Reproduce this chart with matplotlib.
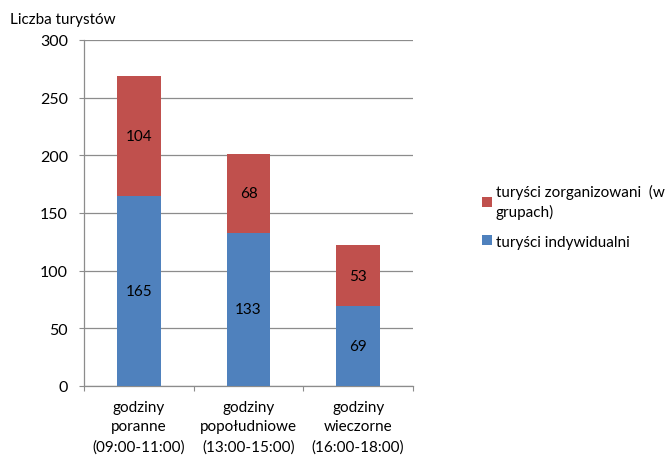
import matplotlib
matplotlib.use("Agg")
import matplotlib.pyplot as plt
import numpy as np

categories = ["godziny\nporanne\n(09:00-11:00)",
              "godziny\npopołudniowe\n(13:00-15:00)",
              "godziny\nwieczorne\n(16:00-18:00)"]
indywidualni = [165, 133, 69]
zorganizowani = [104, 68, 53]
yticks = [0, 50, 100, 150, 200, 250, 300]

plt.rcParams['font.family'] = ['Lato', 'DejaVu Sans']

fig = plt.figure(figsize=(6.71, 4.60), dpi=100)
ax = fig.add_axes([84/671, 1 - 387/460, 329/671, 346/460])

blue = '#4F81BD'
red = '#C0504D'
x = np.arange(len(categories))
b1 = ax.bar(x, indywidualni, width=0.4, color=blue, zorder=3)
b2 = ax.bar(x, zorganizowani, width=0.4, bottom=indywidualni, color=red, zorder=3)

for i in range(len(x)):
    ax.text(x[i], indywidualni[i] / 2, str(indywidualni[i]), ha='center', va='center',
            fontsize=11, zorder=4)
    ax.text(x[i], indywidualni[i] + zorganizowani[i] / 2, str(zorganizowani[i]),
            ha='center', va='center', fontsize=11, zorder=4)

ax.set_xlim(-0.5, 2.5)
ax.set_ylim(0, 300)
ax.set_yticks(yticks)
ax.set_yticklabels([str(v) for v in yticks], fontsize=11.5)
ax.grid(axis='y', color='#8c8c8c', lw=0.9, zorder=0)
ax.set_xticks([-0.5, 0.5, 1.5, 2.5])
ax.set_xticklabels([])
ax.set_xticks(x, minor=True)
ax.set_xticklabels(categories, minor=True, fontsize=11, linespacing=1.5)
ax.tick_params(axis='x', which='minor', length=0, pad=10)
ax.tick_params(axis='x', which='major', length=3.6, color='#8c8c8c', direction='out')
ax.tick_params(axis='y', length=3.6, color='#8c8c8c', direction='out', pad=8)
for s in ['top', 'right']:
    ax.spines[s].set_visible(False)
for s in ['left', 'bottom']:
    ax.spines[s].set_color('#8c8c8c')
    ax.spines[s].set_linewidth(0.9)

fig.text(10/671, 1 - 20/460, "Liczba turystów", fontsize=11, va='center', ha='left')

leg = fig.legend([b2, b1], ["turyści zorganizowani  (w\ngrupach)", "turyści indywidualni"],
                 loc='upper left', bbox_to_anchor=(468/671, 1 - 171/460), frameon=False,
                 fontsize=11, handlelength=0.65, handleheight=0.65, handletextpad=0.25,
                 labelspacing=1.0)
for t in leg.get_texts():
    t.set_linespacing(1.45)

fig.savefig("out.png", dpi=100)
